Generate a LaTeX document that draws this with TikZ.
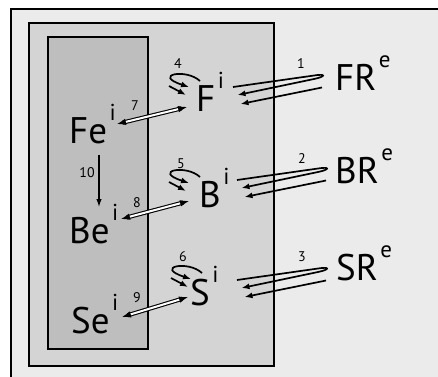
\documentclass[tikz,border=0pt]{standalone}
\usepackage{fontspec}
\setmainfont{PT Sans}
\usetikzlibrary{arrows.meta,calc}
\definecolor{outerc}{RGB}{235,235,235}
\definecolor{midc}{RGB}{212,212,212}
\definecolor{innerc}{RGB}{190,190,190}
\newcommand\supx[1]{\hspace{2.5pt}\raisebox{22.5pt}{\fontsize{23}{23}\selectfont #1}}
\tikzset{
  big/.style={anchor=base west, inner sep=0pt, font=\fontsize{37}{37}\selectfont},
  num/.style={inner sep=0pt, font=\fontsize{14}{14}\selectfont},
  conn/.style={line width=1.7pt, -{Latex[length=8pt,width=6pt]}},
  dblline/.style={double, line width=1.1pt, double distance=2pt, shorten <=6pt, shorten >=6pt},
  dhead/.style={line width=1pt, -{Latex[length=9pt,width=6.5pt]}},
  panel/.style={draw=black, line width=1.6pt},
  pics/hairpin/.style={code={
    \draw[conn] (0,0) -- (81,-11.5) .. controls (93,-13.5) and (93,-10.5) .. (81,-8) -- (4.5,8);
    \draw[conn] (89,0.5) -- (7.5,17);
  }},
  pics/curl/.style={code={
    \draw[conn] (0,0) .. controls (-14,-13) and (-48,-6) .. (-11,6);
    \draw[conn] (-31,5) -- (-14,14);
  }}
}
\begin{document}
\begin{tikzpicture}[x=1pt,y=-1pt]
\useasboundingbox (0,0) rectangle (438,376);
\clip (0,0) rectangle (438,376);
\fill[white] (0,0) rectangle (438,376);
\draw[panel, line width=2pt, fill=outerc] (11,9) rectangle (450,390);
\draw[panel, fill=midc] (29,23) rectangle (274,366);
\draw[panel, fill=innerc] (48,37) rectangle (148,349);

\node[big] (Fe) at (69,143) {Fe\supx{i}};
\node[big] (Be) at (69,243) {Be\supx{i}};
\node[big] (Se) at (71,333) {Se\supx{i}};
\node[big] (F) at (196,111) {F\supx{i}};
\node[big] (B) at (199,207) {B\supx{i}};
\node[big] (S) at (190,305) {S\supx{i}};
\node[big] (FR) at (335,90) {FR\supx{e}};
\node[big] (BR) at (335,183) {BR\supx{e}};
\node[big] (SR) at (336,280) {SR\supx{e}};

\pic at (233,87) {hairpin};
\pic at (237,180) {hairpin};
\pic at (237,280) {hairpin};

\pic at (200,81) {curl};
\pic at (200,177) {curl};
\pic at (202,273) {curl};

\coordinate (fe7) at (117,124); \coordinate (f7) at (187,107);
\coordinate (be8) at (121,219); \coordinate (b8) at (189,201);
\coordinate (se9) at (122,317); \coordinate (s9) at (188,297);
\foreach \a/\b in {fe7/f7, be8/b8, se9/s9}{
  \draw[dblline] (\a) -- (\b);
  \draw[dhead] ($(\a)!7pt!(\b)$) -- (\a);
  \draw[dhead] ($(\b)!7pt!(\a)$) -- (\b);
}

\coordinate (t10) at (99,155); \coordinate (h10) at (99,207);
\draw[line width=1.2pt, -{Latex[length=8pt,width=5.5pt]}] (t10) -- (h10);

\node[num] (n1) at (301,64) {1};
\node[num] (n2) at (302,159) {2};
\node[num] (n3) at (302,257) {3};
\node[num] (n4) at (178,64) {4};
\node[num] (n5) at (181,164) {5};
\node[num] (n6) at (183,257) {6};
\node[num] (n7) at (135,106) {7};
\node[num] (n8) at (137,203) {8};
\node[num] (n9) at (137,298) {9};
\node[num] (n10) at (87,173) {10};
\end{tikzpicture}
\end{document}
